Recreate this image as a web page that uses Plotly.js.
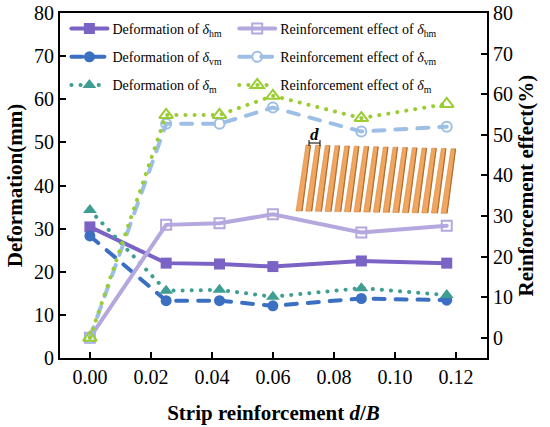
<!DOCTYPE html>
<html><head><meta charset="utf-8">
<script src="https://cdn.plot.ly/plotly-3.0.1.min.js"></script>
<style>
body{margin:0;padding:0;background:#fff;}
#chart{width:550px;height:427px;}
.js-line{stroke-linecap:round;}
</style>
</head><body><div id="chart"></div>
<script>
// Data
const dB = [0, 0.025, 0.0425, 0.06, 0.089, 0.117];
const defHM = [30.4, 22.0, 21.8, 21.2, 22.5, 22.0];
const defVM = [28.3, 13.3, 13.3, 12.1, 13.8, 13.4];
const defM  = [34.3, 15.6, 15.8, 14.2, 16.2, 14.6];
const effHM = [0, 27.8, 28.2, 30.4, 25.9, 27.6];
const effVM = [0, 52.7, 52.7, 56.7, 50.8, 52.0];
const effM  = [0, 54.9, 54.9, 59.6, 54.1, 57.6];
const xTicks = [0, 0.02, 0.04, 0.06, 0.08, 0.10, 0.12];
const xTickText = ['0.00','0.02','0.04','0.06','0.08','0.10','0.12'];
const yTicks = [0,10,20,30,40,50,60,70,80];

const FONT = '"Liberation Serif", "Times New Roman", Times, serif';
const c = {
  hm:'#7A63C5', hmL:'#B4A8DF',
  vm:'#3B6FC2', vmL:'#9DBFE6',
  m:'#3E9E92',  mL:'#9ACD32'
};
const DOT = '0.1px,9px';
const DASH = '11px,11px';

const traces = [
  {x:dB, y:defHM, name:'Deformation of <i>δ</i><sub>hm</sub>', mode:'lines+markers', legend:'legend', legendgroup:'a',
   line:{color:c.hm, width:4}, marker:{symbol:'square', size:11, color:c.hm}},
  {x:dB, y:defVM, name:'Deformation of <i>δ</i><sub>vm</sub>', mode:'lines+markers', legend:'legend', legendgroup:'b',
   line:{color:c.vm, width:4, dash:DASH}, marker:{symbol:'circle', size:11, color:c.vm}},
  {x:dB, y:defM, name:'Deformation of <i>δ</i><sub>m</sub>', mode:'lines+markers', legend:'legend', legendgroup:'c',
   line:{color:c.m, width:4, dash:DOT}, marker:{symbol:'triangle-up', size:12, color:c.m}},
  {x:dB, y:effHM, yaxis:'y2', name:'Reinforcement effect of <i>δ</i><sub>hm</sub>', mode:'lines+markers', legend:'legend2', legendgroup:'d',
   line:{color:c.hmL, width:4}, marker:{symbol:'square-open', size:10, color:c.hmL, line:{width:2}}},
  {x:dB, y:effVM, yaxis:'y2', name:'Reinforcement effect of <i>δ</i><sub>vm</sub>', mode:'lines+markers', legend:'legend2', legendgroup:'e',
   line:{color:c.vmL, width:4, dash:DASH}, marker:{symbol:'circle-open', size:10, color:c.vmL, line:{width:2}}},
  {x:dB, y:effM, yaxis:'y2', name:'Reinforcement effect of <i>δ</i><sub>m</sub>', mode:'lines+markers', legend:'legend2', legendgroup:'f',
   line:{color:c.mL, width:4, dash:DOT}, marker:{symbol:'triangle-up-open', size:12, color:c.mL, line:{width:2}}}
];

// plot area in pixels: x 60..487, y 13..358
const PL=60, PR=487, PT=13, PB=358;
function px(x){return (x-PL)/(PR-PL);}
function py(y){return (PB-y)/(PB-PT);}

// Inset: strip array illustration
const shapes = [];
const nStrips = 16;
for(let i=0;i<nStrips;i++){
  const xt = 306 + i*9.67;
  const yt = 145 + i*0.25, yb = 211 + i*0.15;
  const p = [[xt,yt],[xt+4.5,yt],[xt-4,yb],[xt-10,yb]];
  const path = 'M'+p.map(q=>px(q[0])+','+py(q[1])).join(' L')+' Z';
  shapes.push({type:'path', xref:'paper', yref:'paper', path:path,
    fillcolor:'#F2A55C', line:{color:'#D08848', width:0.6}, layer:'above'});
  shapes.push({type:'line', xref:'paper', yref:'paper',
    x0:px(xt+4.5), y0:py(yt), x1:px(xt-4), y1:py(yb),
    line:{color:'#B06E34', width:1.2}, layer:'above'});
}
// d dimension marker
shapes.push({type:'line', xref:'paper', yref:'paper', x0:px(309), y0:py(143), x1:px(320), y1:py(143), line:{color:'#000', width:1}});
shapes.push({type:'line', xref:'paper', yref:'paper', x0:px(309), y0:py(140), x1:px(309), y1:py(146), line:{color:'#000', width:1}});
shapes.push({type:'line', xref:'paper', yref:'paper', x0:px(320), y0:py(140), x1:px(320), y1:py(146), line:{color:'#000', width:1}});

const legendCommon = {orientation:'v', yanchor:'top', xanchor:'left', tracegroupgap:7,
  font:{family:FONT, size:14, color:'#000'}, bgcolor:'rgba(0,0,0,0)', itemwidth:36};

const layout = {
  width:550, height:427,
  margin:{l:PL, r:550-PR, t:PT, b:427-PB},
  paper_bgcolor:'#fff', plot_bgcolor:'#fff',
  font:{family:FONT, color:'#000', size:20},
  showlegend:true,
  legend:Object.assign({}, legendCommon, {x:0.015, y:1.0}),
  legend2:Object.assign({}, legendCommon, {x:0.408, y:1.0}),
  xaxis:{range:[-0.0098,0.1302], tickvals:xTicks, ticktext:xTickText,
    ticks:'inside', ticklen:6, tickwidth:2, tickcolor:'#000',
    showline:true, linewidth:2, linecolor:'#000', mirror:true, showgrid:false, zeroline:false,
    tickfont:{family:FONT, size:20},
    title:{text:'<b>Strip reinforcement <i>d</i>/<i>B</i></b>', font:{family:FONT, size:21}, standoff:18}},
  yaxis:{range:[0,80], tickvals:yTicks,
    ticks:'inside', ticklen:6, tickwidth:2, tickcolor:'#000',
    showline:true, linewidth:2, linecolor:'#000', showgrid:false, zeroline:false,
    tickfont:{family:FONT, size:20},
    title:{text:'<b>Deformation(mm)</b>', font:{family:FONT, size:21}, standoff:6}},
  yaxis2:{range:[-5,80], tickvals:yTicks, overlaying:'y', side:'right',
    ticks:'inside', ticklen:6, tickwidth:2, tickcolor:'#000',
    showline:true, linewidth:2, linecolor:'#000', showgrid:false, zeroline:false,
    tickfont:{family:FONT, size:20},
    title:{text:'<b>Reinforcement effect(%)</b>', font:{family:FONT, size:21}, standoff:6}},
  shapes:shapes,
  annotations:[{xref:'paper', yref:'paper', x:px(314.5), y:py(134), text:'<b><i>d</i></b>', showarrow:false,
    font:{family:FONT, size:17, color:'#000'}, xanchor:'center', yanchor:'middle'}]
};

Plotly.newPlot('chart', traces, layout, {displayModeBar:false, staticPlot:true});
</script>
</body></html>
